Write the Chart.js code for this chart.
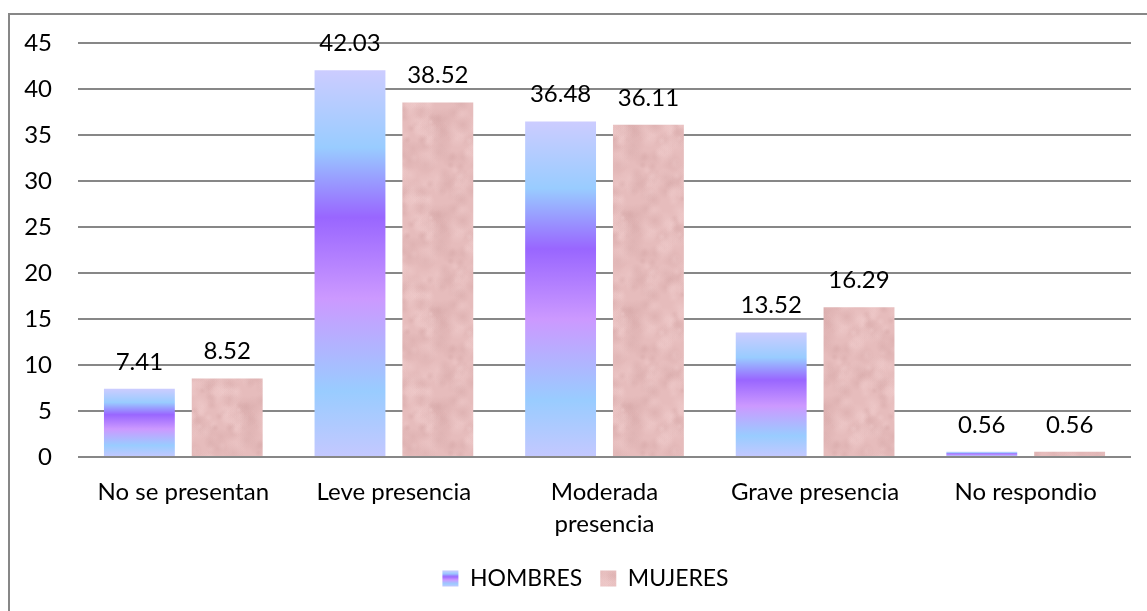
<!DOCTYPE html>
<html>
<head>
<meta charset="utf-8">
<script src="https://cdn.jsdelivr.net/npm/chart.js@4/dist/chart.umd.min.js"></script>
<style>
  html, body { margin: 0; padding: 0; background: #fff; }
  canvas { display: block; }
</style>
</head>
<body>
<canvas id="chart" width="1147" height="611"></canvas>
<script>
const categories = ['No se presentan', 'Leve presencia', ['Moderada', 'presencia'], 'Grave presencia', 'No respondio'];
const hombres = [7.41, 42.03, 36.48, 13.52, 0.56];
const mujeres = [8.52, 38.52, 36.11, 16.29, 0.56];
const yTicks = { min: 0, max: 45, step: 5 };

const FAMILY = 'Lato, "Open Sans", sans-serif';
const FONT = { family: FAMILY, size: 24 };
const LEGEND_FONT = { family: FAMILY, size: 23 };

// gradient stops for the HOMBRES bars, top to base
const blueStops = [
  [0, '#ccccff'], [0.2, '#99ccff'], [0.38, '#9966ff'],
  [0.59, '#cc99ff'], [0.83, '#99ccff'], [1, '#c4c8ff']
];

function barGradient(ctx, top, bottom) {
  const g = ctx.createLinearGradient(0, top, 0, bottom);
  blueStops.forEach(([o, c]) => g.addColorStop(o, c));
  return g;
}

// mottled pink fill for MUJERES
function pinkTexture() {
  const size = 96;
  const c = document.createElement('canvas');
  c.width = c.height = size;
  const g = c.getContext('2d');
  g.fillStyle = '#e6bcbc';
  g.fillRect(0, 0, size, size);
  const h = i => { const s = Math.sin(i * 12.9898) * 43758.5453; return s - Math.floor(s); };
  for (let i = 0; i < 140; i++) {
    const x = h(i + 1) * size, y = h(i + 501) * size, r = 3 + h(i + 901) * 9;
    const col = h(i + 1301) > 0.5 ? '240,204,204' : '214,168,168';
    for (const dx of [-size, 0, size]) for (const dy of [-size, 0, size]) {
      const rg = g.createRadialGradient(x + dx, y + dy, 0, x + dx, y + dy, r);
      rg.addColorStop(0, `rgba(${col},0.45)`);
      rg.addColorStop(1, `rgba(${col},0)`);
      g.fillStyle = rg;
      g.fillRect(x + dx - r, y + dy - r, r * 2, r * 2);
    }
  }
  return g.createPattern(c, 'repeat');
}

const ctx = document.getElementById('chart').getContext('2d');
const pink = pinkTexture();

// legend swatch for HOMBRES: a 16px gradient pattern, shifted onto the box
const swatch = document.createElement('canvas');
swatch.width = 16; swatch.height = 16;
(() => {
  const g = swatch.getContext('2d');
  g.fillStyle = barGradient(g, 0, 16);
  g.fillRect(0, 0, 16, 16);
})();
const swatchPattern = ctx.createPattern(swatch, 'repeat');

const frame = {
  id: 'frame',
  afterLayout(chart) {
    // legend sits a little right of the canvas centre
    chart.legend.left += 40;
  },
  beforeDraw(chart) {
    const c = chart.ctx;
    c.save();
    c.fillStyle = '#fff';
    c.fillRect(0, 0, chart.width, chart.height);
    c.strokeStyle = '#878787';
    c.lineWidth = 2;
    c.beginPath();
    c.moveTo(9, chart.height);
    c.lineTo(9, 14);
    c.lineTo(chart.width, 14);
    c.stroke();
    c.restore();
    const hb = chart.legend && chart.legend.legendHitBoxes && chart.legend.legendHitBoxes[0];
    if (hb && swatchPattern.setTransform) {
      const yBox = hb.top + Math.max((LEGEND_FONT.size - 16) / 2, 0);
      swatchPattern.setTransform(new DOMMatrix().translate(0, yBox));
    }
  }
};

const valueLabels = {
  id: 'valueLabels',
  afterDatasetsDraw(chart) {
    const c = chart.ctx;
    c.save();
    c.font = `${FONT.size}px ${FONT.family}`;
    c.fillStyle = '#000';
    c.textAlign = 'center';
    c.textBaseline = 'middle';
    chart.data.datasets.forEach((ds, di) => {
      chart.getDatasetMeta(di).data.forEach((bar, i) => {
        c.fillText(ds.data[i].toFixed(2), bar.x, bar.y - 27);
      });
    });
    c.restore();
  }
};

new Chart(ctx, {
  type: 'bar',
  data: {
    labels: categories,
    datasets: [
      {
        label: 'HOMBRES',
        data: hombres,
        backgroundColor(context) {
          const chart = context.chart;
          if (context.type !== 'data' || !chart.chartArea) return swatchPattern;
          const y = chart.scales.y;
          return barGradient(chart.ctx, y.getPixelForValue(context.raw), y.getPixelForValue(0));
        }
      },
      { label: 'MUJERES', data: mujeres, backgroundColor: pink }
    ]
  },
  options: {
    responsive: false,
    animation: false,
    devicePixelRatio: 1,
    categoryPercentage: 0.834,
    barPercentage: 0.807,
    layout: { padding: { left: 0, right: 16, top: 43, bottom: 11 } },
    plugins: {
      tooltip: { enabled: false },
      legend: {
        position: 'bottom',
        labels: {
          color: '#000',
          font: LEGEND_FONT,
          boxWidth: 16,
          boxHeight: 16,
          padding: 18,
          generateLabels(chart) {
            return chart.data.datasets.map((ds, i) => ({
              text: ds.label,
              fillStyle: i === 0 ? swatchPattern : pink,
              strokeStyle: 'rgba(0,0,0,0)',
              lineWidth: 0,
              datasetIndex: i
            }));
          }
        }
      }
    },
    scales: {
      x: {
        grid: { display: false, drawTicks: false },
        border: { display: false },
        ticks: { color: '#000', font: { ...FONT, lineHeight: 32 / 24 }, padding: 19, maxRotation: 0 },
        afterFit(scale) { scale.height = 92; }
      },
      y: {
        min: yTicks.min,
        max: yTicks.max,
        grid: { color: '#878787', lineWidth: 2, drawTicks: false },
        border: { display: false },
        ticks: { stepSize: yTicks.step, color: '#000', font: FONT, padding: 26 },
        afterFit(scale) { scale.width = 78; }
      }
    }
  },
  plugins: [frame, valueLabels]
});
</script>
</body>
</html>
